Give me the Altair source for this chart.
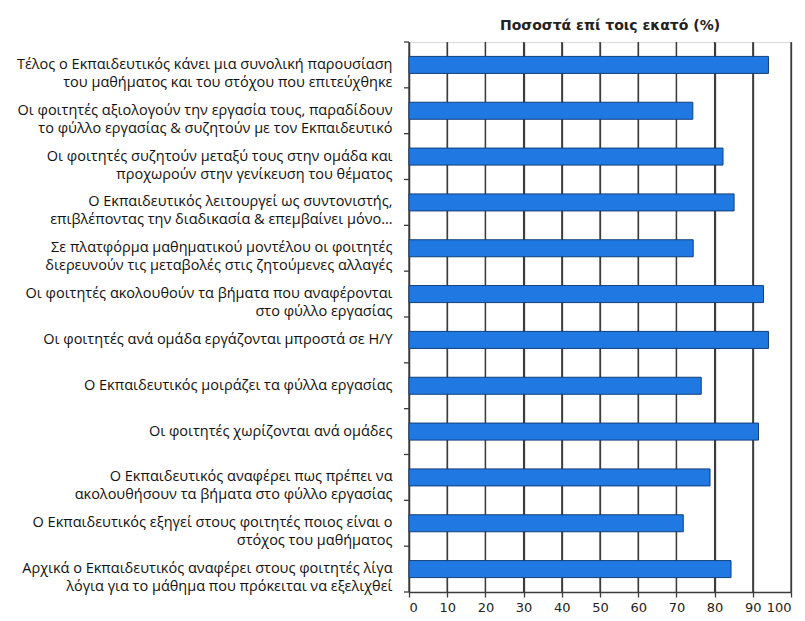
import altair as alt
import pandas as pd

categories = [
    "Τέλος ο Εκπαιδευτικός κάνει μια συνολική παρουσίαση\nτου μαθήματος  και του στόχου που επιτεύχθηκε",
    "Οι φοιτητές αξιολογούν την εργασία τους, παραδίδουν\nτο φύλλο εργασίας & συζητούν με τον Εκπαιδευτικό",
    "Οι φοιτητές συζητούν μεταξύ τους στην ομάδα και\nπροχωρούν στην γενίκευση του θέματος",
    "Ο Εκπαιδευτικός λειτουργεί ως συντονιστής,\nεπιβλέποντας την διαδικασία & επεμβαίνει μόνο…",
    "Σε πλατφόρμα μαθηματικού μοντέλου οι φοιτητές\nδιερευνούν τις μεταβολές στις ζητούμενες αλλαγές",
    "Οι φοιτητές ακολουθούν τα βήματα που αναφέρονται\nστο φύλλο εργασίας",
    "Οι φοιτητές ανά ομάδα εργάζονται μπροστά σε Η/Υ",
    "Ο Εκπαιδευτικός μοιράζει τα φύλλα εργασίας",
    "Οι φοιτητές χωρίζονται ανά ομάδες",
    "Ο Εκπαιδευτικός αναφέρει πως πρέπει να\nακολουθήσουν τα βήματα στο φύλλο εργασίας",
    "Ο Εκπαιδευτικός εξηγεί στους φοιτητές ποιος είναι ο\nστόχος του μαθήματος",
    "Αρχικά ο Εκπαιδευτικός αναφέρει στους φοιτητές λίγα\nλόγια για το μάθημα που πρόκειται να εξελιχθεί",
]
values = [94.1, 74.3, 82.2, 85.1, 74.4, 92.8, 94.1, 76.5, 91.5, 78.8, 71.8, 84.3]
x_ticks = [0, 10, 20, 30, 40, 50, 60, 70, 80, 90, 100]
title_text = "Ποσοστά επί τοις εκατό (%)"

df = pd.DataFrame({"cat": categories, "val": values})
grid_df = pd.DataFrame({"g": [float(v) for v in x_ticks]})

LINE = "#3d3d3d"

x_scale = alt.Scale(domain=[0, 100], nice=False)
y_scale = alt.Scale(paddingInner=0, paddingOuter=0)

x_axis = alt.Axis(
    values=x_ticks,
    title=None,
    grid=True,
    gridColor=LINE,
    gridWidth=1.3,
    domainColor=LINE,
    domainWidth=1.3,
    tickColor=LINE,
    tickWidth=1.3,
    tickSize=5,
    labelFont="DejaVu Sans",
    labelFontSize=13,
    labelColor="#222222",
    labelPadding=4,
)

y_axis = alt.Axis(
    title=None,
    grid=False,
    ticks=False,
    domainColor=LINE,
    domainWidth=1.3,
    labelExpr="split(datum.label, '\\n')",
    labelFont="Open Sans",
    labelFontSize=14.5,
    labelColor="#111111",
    labelLineHeight=18,
    labelAlign="right",
    labelPadding=17,
    labelLimit=0,
)

grid = (
    alt.Chart(grid_df)
    .mark_rule(color=LINE, strokeWidth=1.3)
    .encode(x=alt.X("g:Q", scale=x_scale, axis=x_axis))
)

bars = (
    alt.Chart(df)
    .mark_bar(color="#2079E3", stroke="#123F7A", strokeWidth=1, size=17)
    .encode(
        x=alt.X("val:Q", scale=x_scale, axis=x_axis),
        y=alt.Y("cat:N", sort=None, scale=y_scale, axis=y_axis),
    )
)

band_ticks = (
    alt.Chart(df)
    .mark_rule(color=LINE, strokeWidth=1.3)
    .encode(
        y=alt.Y("cat:N", sort=None, scale=y_scale, axis=y_axis, bandPosition=0),
        x=alt.value(-5),
        x2=alt.value(0),
    )
)

end_tick = (
    alt.Chart(df)
    .transform_filter(alt.datum.cat == categories[-1])
    .mark_rule(color=LINE, strokeWidth=1.3)
    .encode(
        y=alt.Y("cat:N", sort=None, scale=y_scale, axis=y_axis, bandPosition=1),
        x=alt.value(-5),
        x2=alt.value(0),
    )
)

chart = (
    alt.layer(grid, bars, band_ticks, end_tick)
    .properties(
        width=382,
        height=550,
        autosize=alt.AutoSizeParams(type="none"),
        padding={"left": 401, "top": 34, "right": 4, "bottom": 22},
        title=alt.TitleParams(
            title_text,
            font="DejaVu Sans",
            fontSize=14,
            fontWeight="bold",
            color="#222222",
            anchor="middle",
            dx=10,
            offset=8,
        ),
    )
)

chart.save("out.html", embed_options={"renderer": "svg", "actions": False})
